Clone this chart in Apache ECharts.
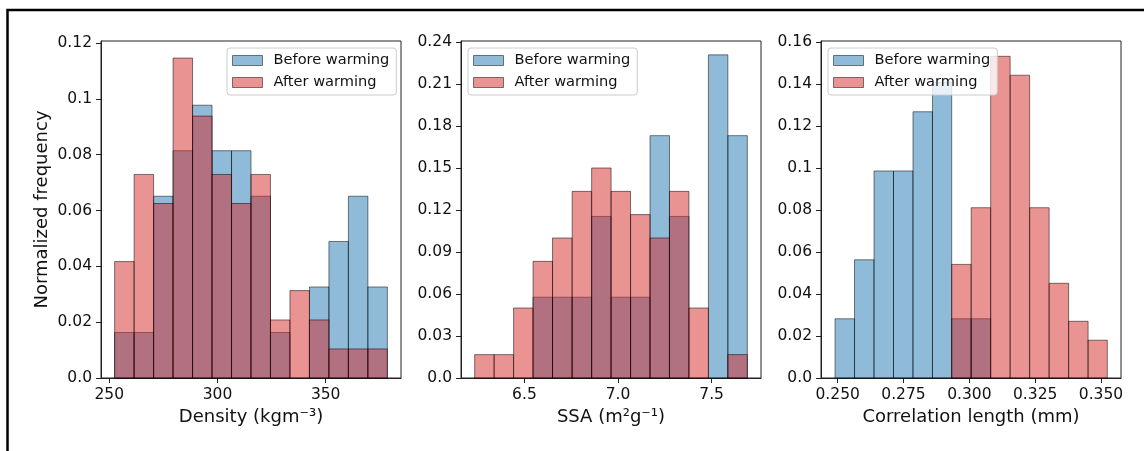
<!DOCTYPE html>
<html>
<head>
<meta charset="utf-8">
<script src="https://cdn.jsdelivr.net/npm/echarts@6/dist/echarts.min.js"></script>
<style>
  html, body { margin: 0; padding: 0; background: #fff; }
  #chart { width: 1144px; height: 451px; }
</style>
</head>
<body>
<div id="chart"></div>
<script>
const seriesNames = ['Before warming', 'After warming']

// bin edges
const densityEdges = [252.5, 261.5, 270.5, 279.5, 288.5, 297.5, 306.5, 315.5, 324.5, 333.5, 342.5, 351.5, 360.5, 369.5, 378.5]
const densityBefore = [0.0163, 0.0163, 0.0651, 0.0814, 0.0977, 0.0814, 0.0814, 0.0651, 0.0163, 0, 0.0326, 0.0489, 0.0651, 0.0326]
const densityAfter = [0.0417, 0.0729, 0.0625, 0.1146, 0.0938, 0.0729, 0.0625, 0.0729, 0.0208, 0.0313, 0.0208, 0.0104, 0.0104, 0.0104]

const ssaEdges = [6.234, 6.338, 6.442, 6.546, 6.650, 6.755, 6.859, 6.963, 7.067, 7.171, 7.275, 7.379, 7.483, 7.587, 7.691]
const ssaBefore = [0, 0, 0, 0.0577, 0.0577, 0.0577, 0.1154, 0.0577, 0.0577, 0.1731, 0.1154, 0, 0.2308, 0.1731]
const ssaAfter = [0.0167, 0.0167, 0.05, 0.0833, 0.1, 0.1333, 0.15, 0.1333, 0.1167, 0.1, 0.1333, 0.05, 0, 0.0167]

const corrEdges = [0.2490, 0.2564, 0.2638, 0.2712, 0.2786, 0.2860, 0.2933, 0.3007, 0.3081, 0.3155, 0.3229, 0.3303, 0.3377, 0.3451, 0.3524]
const corrBefore = [0.0282, 0.0563, 0.0986, 0.0986, 0.1268, 0.1408, 0.0282, 0.0282, 0, 0, 0, 0, 0, 0]
const corrAfter = [0, 0, 0, 0, 0, 0, 0.0541, 0.0811, 0.1532, 0.1442, 0.0811, 0.0451, 0.0270, 0.0180]

// tick labels
const densityTicks = [250, 300, 350]
const ssaTicks = [6.5, 7.0, 7.5]
const corrTicks = [0.25, 0.275, 0.3, 0.325, 0.35]
const densityYTicks = [0, 0.02, 0.04, 0.06, 0.08, 0.1, 0.12]
const ssaYTicks = [0, 0.03, 0.06, 0.09, 0.12, 0.15, 0.18, 0.21, 0.24]
const corrYTicks = [0, 0.02, 0.04, 0.06, 0.08, 0.1, 0.12, 0.14, 0.16]

const panels = [
    { edges: densityEdges, before: densityBefore, after: densityAfter, xTicks: densityTicks, yTicks: densityYTicks,
      xMin: 246.2, xMax: 384.8, yMax: 0.1207, xName: 'Density (kgm⁻³)', xFmt: v => String(v), left: 101, legendLeft: 227 },
    { edges: ssaEdges, before: ssaBefore, after: ssaAfter, xTicks: ssaTicks, yTicks: ssaYTicks,
      xMin: 6.161, xMax: 7.764, yMax: 0.2407, xName: 'SSA (m²g⁻¹)', xFmt: v => v.toFixed(1), left: 461, legendLeft: 468 },
    { edges: corrEdges, before: corrBefore, after: corrAfter, xTicks: corrTicks, yTicks: corrYTicks,
      xMin: 0.24366, xMax: 0.3576, yMax: 0.1605, xName: 'Correlation length (mm)', xFmt: v => v.toFixed(3), left: 821, legendLeft: 828 }
]

const font = 'DejaVu Sans'
const blue = 'rgba(31,119,180,0.5)'
const red = 'rgba(214,39,40,0.5)'
const edgeColor = 'rgba(0,0,0,0.5)'

const toBins = (edges, vals) => vals.map((v, i) => [edges[i], edges[i + 1], v])

const yFmt = v => (v === 0 ? '0.0' : String(parseFloat(v.toFixed(3))))

const histItem = (params, api) => {
    const h = api.value(2)
    if (!h) return null
    const p0 = api.coord([api.value(0), h])
    const p1 = api.coord([api.value(1), 0])
    return {
        type: 'rect',
        shape: { x: p0[0], y: p0[1], width: p1[0] - p0[0], height: p1[1] - p0[1] },
        style: { fill: api.visual('color'), stroke: edgeColor, lineWidth: 1 }
    }
}

const axisCommon = {
    axisLine: { show: true, onZero: false, lineStyle: { color: '#222', width: 1 } },
    axisTick: { show: true, length: 5, lineStyle: { color: '#222', width: 1 } },
    splitLine: { show: false }
}

const option = {
    animation: false,
    backgroundColor: '#fff',
    textStyle: { fontFamily: font },
    grid: panels.map(p => ({
        left: p.left, top: 41, width: 300, height: 337,
        show: true, borderColor: '#222', borderWidth: 1, backgroundColor: 'transparent'
    })),
    xAxis: panels.map((p, i) => ({
        type: 'value', gridIndex: i, min: p.xMin, max: p.xMax,
        name: p.xName, nameLocation: 'middle', nameGap: 30,
        nameTextStyle: { fontFamily: font, fontSize: 18, color: '#111' },
        ...axisCommon,
        axisTick: { ...axisCommon.axisTick, customValues: p.xTicks },
        axisLabel: { customValues: p.xTicks, formatter: p.xFmt, fontFamily: font, fontSize: 15.5, color: '#111', margin: 9 }
    })),
    yAxis: panels.map((p, i) => ({
        type: 'value', gridIndex: i, min: 0, max: p.yMax,
        name: i === 0 ? 'Normalized frequency' : '', nameLocation: 'middle', nameGap: 50,
        nameTextStyle: { fontFamily: font, fontSize: 18, color: '#111' },
        ...axisCommon,
        axisTick: { ...axisCommon.axisTick, customValues: p.yTicks },
        axisLabel: { customValues: p.yTicks, formatter: yFmt, fontFamily: font, fontSize: 15.5, color: '#111', margin: 9 }
    })),
    legend: panels.map(p => ({
        data: seriesNames, orient: 'vertical', left: p.legendLeft, top: 48, z: 10,
        icon: 'rect', itemWidth: 30, itemHeight: 10, itemGap: 5,
        itemStyle: { borderColor: edgeColor, borderWidth: 1 },
        padding: [4, 7, 4, 5],
        backgroundColor: 'rgba(255,255,255,0.8)', borderColor: '#ccc', borderWidth: 1, borderRadius: 3,
        textStyle: { fontFamily: font, fontSize: 14.6, color: '#111', padding: [0, 0, 0, 6], lineHeight: 17 },
        selectedMode: false
    })),
    series: panels.flatMap((p, i) => [
        { name: seriesNames[0], type: 'custom', xAxisIndex: i, yAxisIndex: i, renderItem: histItem,
          itemStyle: { color: blue }, encode: { x: [0, 1], y: 2 }, data: toBins(p.edges, p.before), z: 2 },
        { name: seriesNames[1], type: 'custom', xAxisIndex: i, yAxisIndex: i, renderItem: histItem,
          itemStyle: { color: red }, encode: { x: [0, 1], y: 2 }, data: toBins(p.edges, p.after), z: 3 }
    ]),
    graphic: [{
        type: 'polyline', silent: true,
        shape: { points: [[7.5, 451], [7.5, 10], [1144, 10]] },
        style: { stroke: '#000', lineWidth: 2.5, fill: null }
    }]
}

const chart = echarts.init(document.getElementById('chart'), null, { renderer: 'canvas' })
chart.setOption(option)
</script>
</body>
</html>
